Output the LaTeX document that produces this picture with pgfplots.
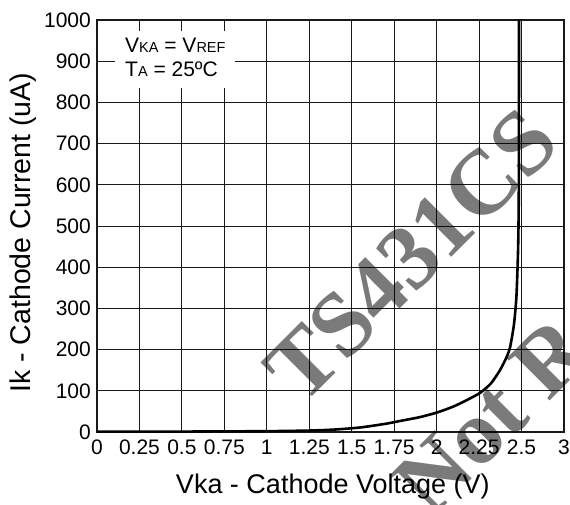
\documentclass[border=0pt]{standalone}
\usepackage{pgfplots}
\pgfplotsset{compat=1.18}
\usepackage{fontspec}
\setmainfont{Liberation Sans}
\newfontfamily\wmfont{Liberation Serif}
\newcommand\sm[1]{{\fontsize{14.5}{14.5}\selectfont #1}}

\begin{document}
\begin{tikzpicture}
\begin{axis}[
    scale only axis,
    width=467pt, height=412pt,
    at={(0pt,0pt)}, anchor=south west,
    xmin=0, xmax=2.75,
    ymin=0, ymax=1000,
    xtick={0,0.25,0.5,0.75,1,1.25,1.5,1.75,2,2.25,2.5,2.75},
    xticklabels={0,0.25,0.5,0.75,1,1.25,1.5,1.75,2,2.25,2.5,3},
    ytick={0,100,...,1000},
    scaled y ticks=false,
    /pgf/number format/1000 sep={},
    /pgf/number format/assume math mode=true,
    major tick length=0pt,
    grid=major,
    major grid style={black!90, line width=1pt},
    axis line style={black!90, line width=1.2pt},
    ticklabel style={font=\fontsize{21}{21}\selectfont},
    xticklabel style={inner sep=0pt, anchor=north, yshift=-8pt},
    yticklabel style={inner sep=0pt, anchor=east, xshift=-6pt},
    xlabel={Vka - Cathode Voltage (V)},
    ylabel={Ik - Cathode Current (uA)},
    xlabel style={font=\fontsize{27}{27}\selectfont,
                  at={(axis description cs:0.505,-0.1335)}, anchor=center},
    ylabel style={font=\fontsize{28.5}{28.5}\selectfont,
                  at={(axis description cs:-0.158,0.484)}, anchor=center},
]

% white box behind the conditions text
\fill[white] (axis cs:0.106,835) rectangle (axis cs:0.813,973);
\node[anchor=base west, inner sep=0pt, font=\fontsize{21}{21}\selectfont]
  at (axis cs:0.165,920) {V\sm{KA} = V\sm{REF}};
\node[anchor=base west, inner sep=0pt, font=\fontsize{21}{21}\selectfont]
  at (axis cs:0.165,864) {T\sm{A} = 25ºC};

\addplot[black, line width=2.6pt, smooth, tension=0.4] coordinates {
    (0,1)(0.25,1)(0.5,1)(0.75,1.5)(1,2)(1.25,3.5)(1.4,6)(1.55,11)
    (1.7,20)(1.8,28)(1.9,36)(2,47)(2.1,62)(2.18,78)(2.256,95)(2.32,118)
    (2.373,150)(2.41,180)(2.432,205)(2.455,260)(2.47,330)(2.48,450)
    (2.484,600)(2.485,1000)
};
\end{axis}

% watermark
\node[rotate=45, anchor=base west, inner sep=0pt, text=black, text opacity=0.52,
      font=\wmfont\bfseries\fontsize{92}{92}\selectfont] at (205pt,25pt) {TS431CS};
\node[rotate=45, anchor=base west, inner sep=0pt, text=black, text opacity=0.52,
      font=\wmfont\bfseries\fontsize{92}{92}\selectfont] at (334pt,-88pt) {Not Recommended};

\pgfresetboundingbox
\path[use as bounding box] (-97pt,-72pt) rectangle (473pt,432pt);
\end{tikzpicture}
\end{document}
